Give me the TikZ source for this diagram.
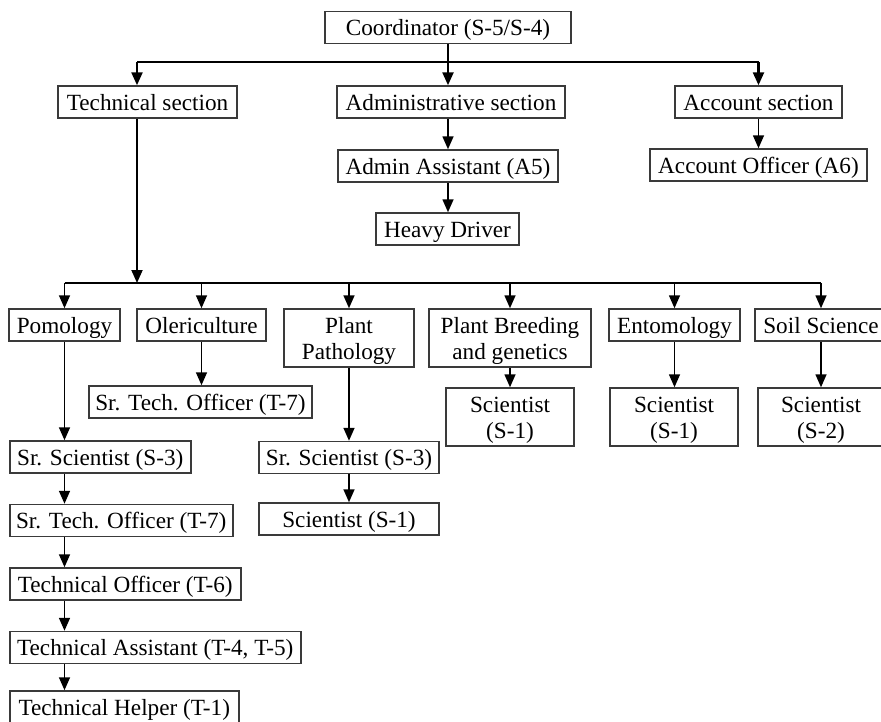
\documentclass[tikz,border=0pt]{standalone}
\usepackage{fontspec}
\setmainfont{Liberation Serif}
\usetikzlibrary{arrows.meta,positioning}
\definecolor{boxgrey}{HTML}{3A3A3A}

\begin{document}
\begin{tikzpicture}[x=1pt, y=-1pt,
        every node/.style={font=\fontsize{23.2}{26}\selectfont},
        block/.style={draw=boxgrey, line width=1.5pt, align=center, inner xsep=3pt, inner ysep=2pt, text height=22pt, text depth=6pt, minimum height=32pt},
        tall/.style={block, text height=48pt, minimum height=58pt},
        link/.style={line width=1.6pt, -{Triangle[length=13pt, width=11pt]}},
        bus/.style={line width=2.8pt}]
        \useasboundingbox (0,0) rectangle (881,721);

        % top part
        \node (coord) [block, minimum width=246pt] at (448,27.5) {Coordinator (S-5/S-4)};
        \node (tech) [block, minimum width=179pt] at (147.5,102) {Technical section};
        \node (admin) [block, minimum width=228pt] at (451,102) {Administrative section};
        \node (account) [block, minimum width=167pt] at (758.5,102) {Account section};
        \node (asst) [block, minimum width=220pt] at (448,166) {Admin Assistant (A5)};
        \node (driver) [block, minimum width=143pt] at (447.5,229) {Heavy Driver};
        \node (officer) [block, minimum width=217pt] at (758.5,165) {Account Officer (A6)};

        % divisions
        \node (pomo) [block, minimum width=111pt] at (64.5,325) {Pomology};
        \node (oleri) [block, minimum width=129pt] at (201.5,325) {Olericulture};
        \node (patho) [tall, minimum width=130pt] at (349,338) {Plant\\Pathology};
        \node (breed) [tall, minimum width=162pt] at (510,338) {Plant Breeding\\and genetics};
        \node (ento) [block, minimum width=131pt] at (674.5,325) {Entomology};
        \node (soil) [block, minimum width=132pt] at (821,325) {Soil Science};

        \node (olestech) [block, minimum width=223pt] at (200.5,402) {Sr. Tech. Officer (T-7)};
        \node (brsci) [tall, minimum width=128pt] at (510,417) {Scientist\\(S-1)};
        \node (entsci) [tall, minimum width=128pt] at (674,417) {Scientist\\(S-1)};
        \node (soilsci) [tall, minimum width=126pt] at (821,417) {Scientist\\(S-2)};

        % pomology column
        \node (psr) [block, minimum width=181pt, anchor=west] at (9,457) {Sr. Scientist (S-3)};
        \node (pst) [block, minimum width=223pt, below=30pt of psr.south west, anchor=north west] {Sr. Tech. Officer (T-7)};
        \node (pto) [block, minimum width=231pt, below=30pt of pst.south west, anchor=north west] {Technical Officer (T-6)};
        \node (pta) [block, minimum width=291pt, below=30pt of pto.south west, anchor=north west] {Technical Assistant (T-4, T-5)};
        \node (phl) [block, minimum width=229pt, below=26pt of pta.south west, anchor=north west] {Technical Helper (T-1)};

        % plant pathology column
        \node (ppsr) [block, minimum width=180pt] at (349,457.5) {Sr. Scientist (S-3)};
        \node (ppsci) [block, minimum width=180pt, below=28pt of ppsr] {Scientist (S-1)};

        % connectors
        \coordinate (below_coord) at (448,62);
        \coordinate (tech_drop) at (137,62);
        \coordinate (tech_bus) at (137,283);

        \draw[line width=1.8pt] (coord.south) -- (below_coord);
        \draw[bus] (tech_drop) -- (tech_drop -| account.north);
        \draw[link, line width=2.4pt] (tech_drop) -- (tech_drop |- tech.north);
        \draw[link, line width=2.4pt] (below_coord) -- (below_coord |- admin.north);
        \draw[link, line width=2.4pt] (tech_drop -| account.north) -- (account.north);
        \draw[link] (asst.north |- admin.south) -- (asst.north);
        \draw[link] (asst.south) -- (asst.south |- driver.north);
        \draw[link] (account.south) -- (officer.north);

        \draw[link, line width=1.8pt] (tech_bus |- tech.south) -- (tech_bus);
        \draw[bus] (tech_bus -| pomo.north) -- (tech_bus -| soil.north);
        \foreach \n in {pomo, oleri, patho, breed, ento, soil}
            \draw[link] (tech_bus -| \n.north) -- (\n.north);

        \draw[link] (oleri.south) -- (oleri.south |- olestech.north);
        \draw[link] (breed.south) -- (brsci.north);
        \draw[link] (ento.south) -- (ento.south |- entsci.north);
        \draw[link] (soil.south) -- (soilsci.north);

        \draw[link] (pomo.south) -- (pomo.south |- psr.north);
        \foreach \a/\b in {psr/pst, pst/pto, pto/pta, pta/phl}
            \draw[link] (pomo.south |- \a.south) -- (pomo.south |- \b.north);

        \draw[link] (patho.south) -- (ppsr.north);
        \draw[link] (ppsr.south) -- (ppsci.north);
\end{tikzpicture}
\end{document}
